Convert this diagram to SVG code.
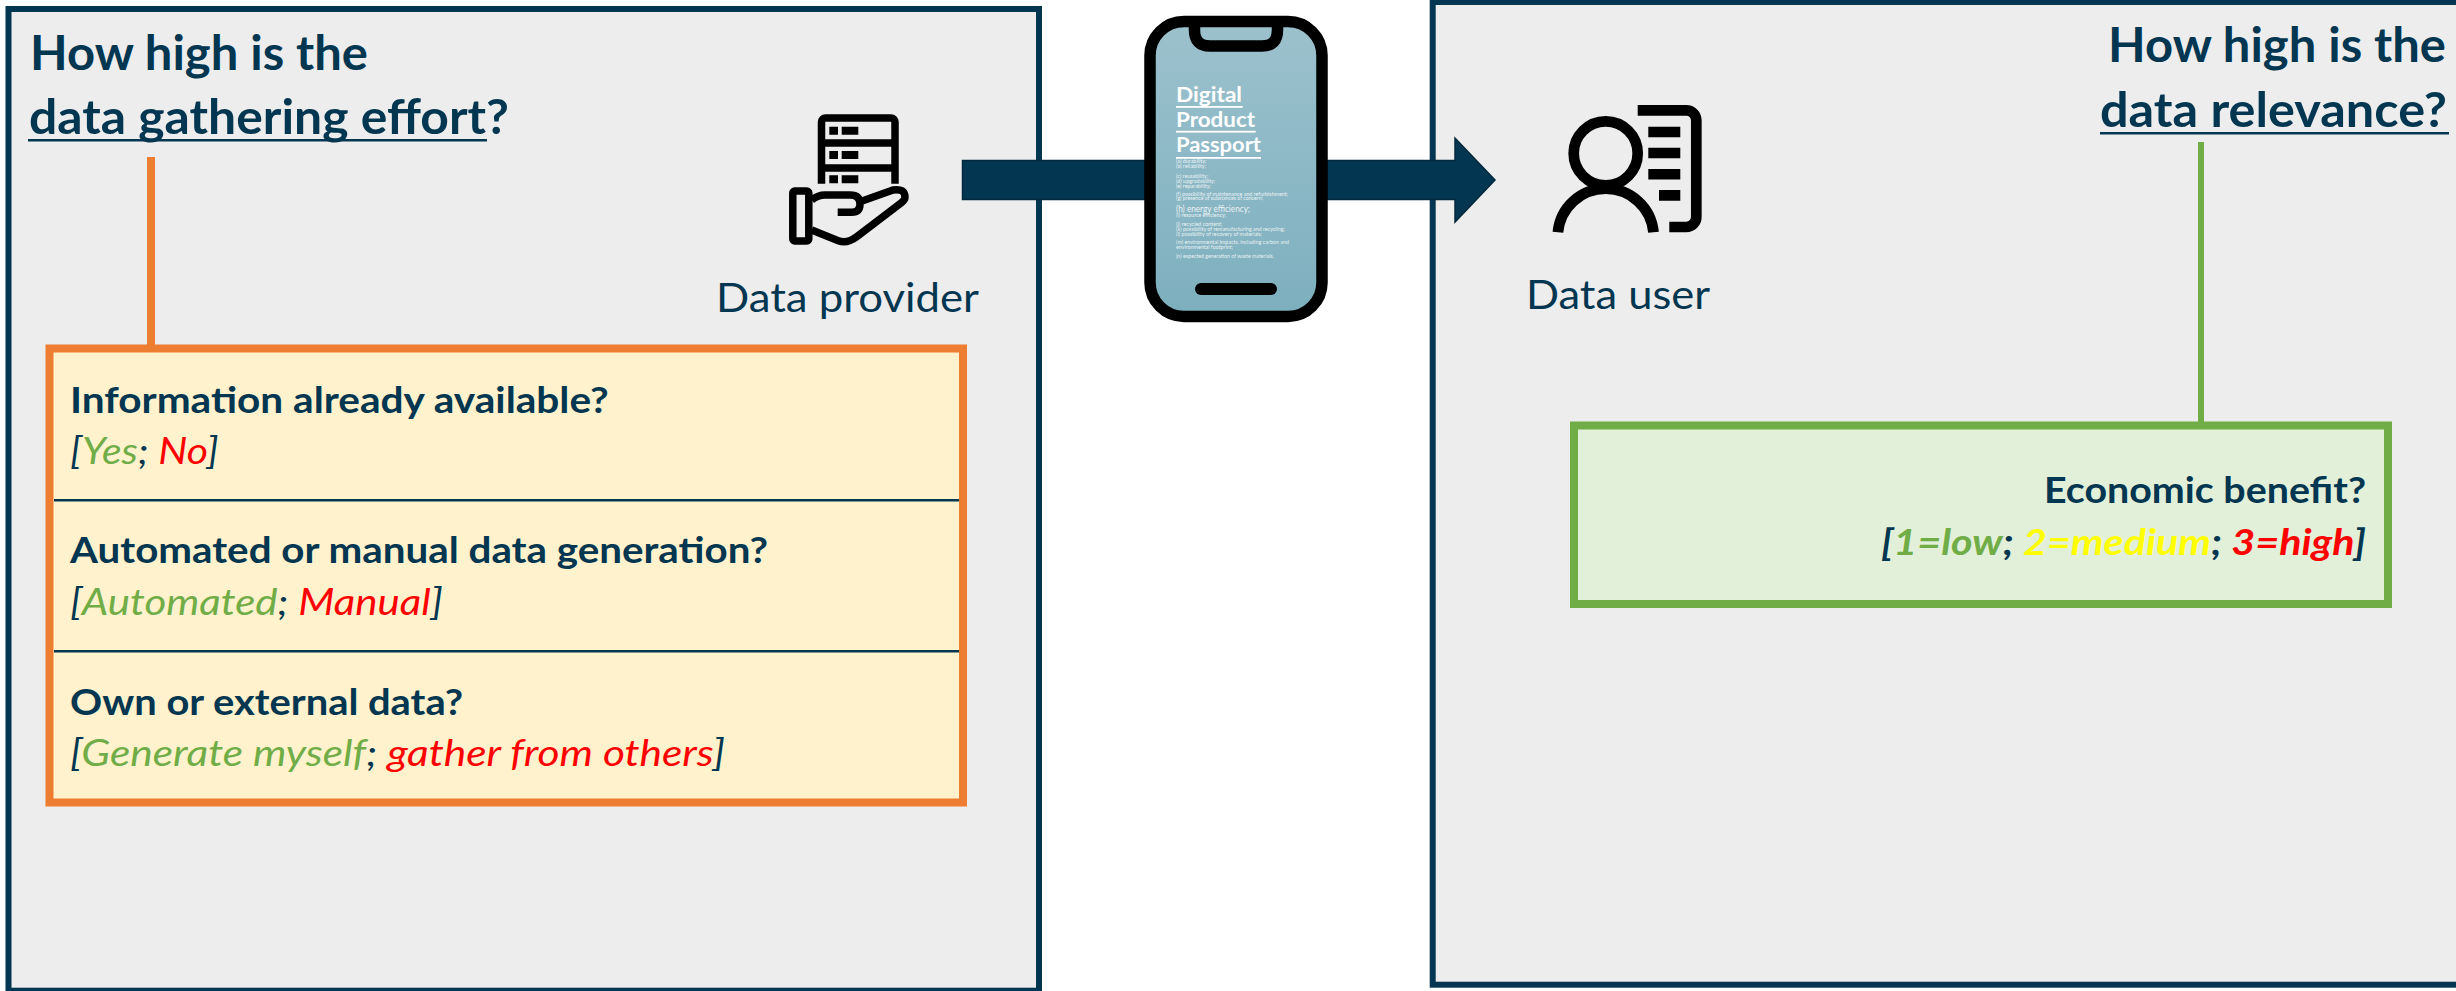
<svg xmlns="http://www.w3.org/2000/svg" width="2456" height="991" viewBox="0 0 2456 991">
<defs>
<linearGradient id="screen" x1="0" y1="0" x2="0" y2="1"><stop offset="0" stop-color="#9cc1cd"/><stop offset="1" stop-color="#7dafbe"/></linearGradient>
</defs>
<style>
text{font-family:Lato,"Liberation Sans",sans-serif;fill:#033650}
.title{font-size:47px;font-weight:700}
.role{font-size:40px}
.q{font-size:36px;font-weight:700}
.a{font-size:36px;font-style:italic}
.ab{font-size:36px;font-style:italic;font-weight:700}
.g{fill:#70ad47}.r{fill:#ff0000}.y{fill:#ffff00}
.panel{fill:#ededed;stroke:#033650;stroke-width:6}
.rule{fill:#033650}
.ico{fill:none;stroke:#000;stroke-width:7.5;stroke-linejoin:round}
.ico2{fill:none;stroke:#000;stroke-width:10.7}
.ph{font-size:21px;font-weight:700;fill:#fff}
.ps{font-size:5.4px;fill:#fff;fill-opacity:.85}
</style>
<g id="panel-provider"><rect class="panel" x="8.500" y="9" width="1030.500" height="981.700"/></g>
<g id="panel-user"><rect class="panel" x="1432.700" y="2" width="1040" height="982.700"/></g>
<g id="connectors">
<path d="M962.500 160.500H1455V138L1495 180L1455 222V199.500H962.500Z" fill="#033650" stroke="#01283c" stroke-width="1.500"/>
<rect x="147" y="157" width="8" height="190" fill="#ed7d31"/>
<rect x="2198" y="142" width="6" height="282" fill="#70ad47"/>
</g>
<g id="title-provider">
<text class="title" x="30" y="70" textLength="338" lengthAdjust="spacingAndGlyphs">How high is the</text>
<text class="title" x="29" y="134" textLength="480" lengthAdjust="spacingAndGlyphs">data gathering effort?</text>
<rect class="rule" x="28" y="139" width="459" height="2.500"/>
</g>
<g id="title-user">
<text class="title" x="2108" y="62" textLength="338" lengthAdjust="spacingAndGlyphs">How high is the</text>
<text class="title" x="2100" y="127" textLength="347" lengthAdjust="spacingAndGlyphs">data relevance?</text>
<rect class="rule" x="2100" y="132" width="349" height="2.500"/>
</g>
<g id="data-provider">
<path class="ico" d="M821.500 183.700V122a4 4 0 0 1 4-4H891a4 4 0 0 1 4 4V183.700M821.500 143H895M821.500 168H895"/>
<path d="M829.300 126.700h8.700v8h-8.700zM841.700 126.700h16.600v8h-16.600zM829.300 151h8.700v8h-8.700zM841.700 151h16.600v8h-16.600zM829.300 175.300h8.700v8h-8.700zM841.700 175.300h16.600v8h-16.600z" fill="#000"/>
<rect class="ico" x="792.800" y="191.100" width="16" height="49.800" rx="2"/>
<path class="ico" d="M811.700 200Q818 195 825 195H850Q860 195 860 204Q860 212.300 851.700 212.300H837.700M860 201.700L893 190Q905 188 905 197.300Q905 200 901 203L856.700 236.700Q847 244 838.300 240.700L811.700 230"/>
<text class="role" x="716" y="312" textLength="263" lengthAdjust="spacingAndGlyphs">Data provider</text>
</g>
<g id="data-user">
<circle class="ico2" cx="1605.700" cy="153.300" r="32"/>
<path class="ico2" d="M1557.900 232.300A48 48 0 0 1 1653.500 232.300"/>
<path class="ico2" d="M1637.700 110.300H1686.300A10 10 0 0 1 1696.300 120.300V217A10 10 0 0 1 1686.300 227H1669.300"/>
<path d="M1648.300 126.700h32v10.600h-32zM1648.300 147.700h32v10.600h-32zM1648.300 169h32v10.400h-32zM1659 190h21.300v10.700h-21.300z" fill="#000"/>
<text class="role" x="1526" y="309" textLength="184" lengthAdjust="spacingAndGlyphs">Data user</text>
</g>
<g id="passport-phone">
<rect x="1150" y="21.500" width="172" height="295" rx="34" fill="url(#screen)" stroke="#000" stroke-width="11.500"/>
<path d="M1194.500 22V30Q1194.500 46 1210 46H1262Q1277.500 46 1277.500 30V22" fill="none" stroke="#000" stroke-width="11.500"/>
<rect x="1195" y="283" width="82" height="12" rx="6" fill="#000"/>
<text class="ph" x="1176" y="102" textLength="66" lengthAdjust="spacingAndGlyphs">Digital</text>
<rect x="1176" y="106" width="66.700" height="1.800" fill="#fff"/>
<text class="ph" x="1176" y="127" textLength="79" lengthAdjust="spacingAndGlyphs">Product</text>
<rect x="1176" y="130.800" width="79.700" height="1.800" fill="#fff"/>
<text class="ph" x="1176" y="152" textLength="85" lengthAdjust="spacingAndGlyphs">Passport</text>
<rect x="1176" y="157" width="85" height="1.800" fill="#fff"/>
<text class="ps" x="1176" y="163.300">(a) durability;</text>
<text class="ps" x="1176" y="168.300">(b) reliability;</text>
<text class="ps" x="1176" y="177.700">(c) reusability;</text>
<text class="ps" x="1176" y="182.700">(d) upgradability;</text>
<text class="ps" x="1176" y="187.700">(e) reparability;</text>
<text class="ps" x="1176" y="195.700" textLength="112" lengthAdjust="spacingAndGlyphs">(f) possibility of maintenance and refurbishment;</text>
<text class="ps" x="1176" y="200.300" textLength="87" lengthAdjust="spacingAndGlyphs">(g) presence of substances of concern;</text>
<text class="ps" x="1176" y="212" style="font-size:9px" textLength="74" lengthAdjust="spacingAndGlyphs">(h) energy efficiency;</text>
<text class="ps" x="1176" y="217" textLength="50" lengthAdjust="spacingAndGlyphs">(i) resource efficiency;</text>
<text class="ps" x="1176" y="225.700">(j) recycled content;</text>
<text class="ps" x="1176" y="231" textLength="109" lengthAdjust="spacingAndGlyphs">(k) possibility of remanufacturing and recycling;</text>
<text class="ps" x="1176" y="235.700" textLength="86" lengthAdjust="spacingAndGlyphs">(l) possibility of recovery of materials;</text>
<text class="ps" x="1176" y="243.700" textLength="113" lengthAdjust="spacingAndGlyphs">(m) environmental impacts, including carbon and</text>
<text class="ps" x="1176" y="249" textLength="57" lengthAdjust="spacingAndGlyphs">environmental footprint;</text>
<text class="ps" x="1176" y="257.700" textLength="98" lengthAdjust="spacingAndGlyphs">(n) expected generation of waste materials.</text>
</g>
<g id="effort-box">
<rect x="49.500" y="348.500" width="913.500" height="454" fill="#fff2cc" stroke="#ed7d31" stroke-width="8"/>
<rect class="rule" x="54" y="499" width="905" height="2.500"/>
<rect class="rule" x="54" y="650" width="905" height="2.500"/>
<text class="q" x="70" y="412.700" textLength="538.700" lengthAdjust="spacingAndGlyphs">Information already available?</text>
<text class="a" x="70" y="464" textLength="148.600" lengthAdjust="spacingAndGlyphs">[<tspan class="g">Yes</tspan>; <tspan class="r">No</tspan>]</text>
<text class="q" x="70" y="563" textLength="698" lengthAdjust="spacingAndGlyphs">Automated or manual data generation?</text>
<text class="a" x="70" y="615" textLength="373" lengthAdjust="spacingAndGlyphs">[<tspan class="g">Automated</tspan>; <tspan class="r">Manual</tspan>]</text>
<text class="q" x="70" y="715" textLength="393" lengthAdjust="spacingAndGlyphs">Own or external data?</text>
<text class="a" x="70" y="766" textLength="655" lengthAdjust="spacingAndGlyphs">[<tspan class="g">Generate myself</tspan>; <tspan class="r">gather from others</tspan>]</text>
</g>
<g id="relevance-box">
<rect x="1574" y="425.500" width="814" height="178.500" fill="#e2f0d9" stroke="#70ad47" stroke-width="8"/>
<text class="q" x="2044" y="503" textLength="322" lengthAdjust="spacingAndGlyphs">Economic benefit?</text>
<text class="ab" x="1881" y="555" textLength="485" lengthAdjust="spacingAndGlyphs">[<tspan class="g">1=low</tspan>; <tspan class="y">2=medium</tspan>; <tspan class="r">3=high</tspan>]</text>
</g>
</svg>
